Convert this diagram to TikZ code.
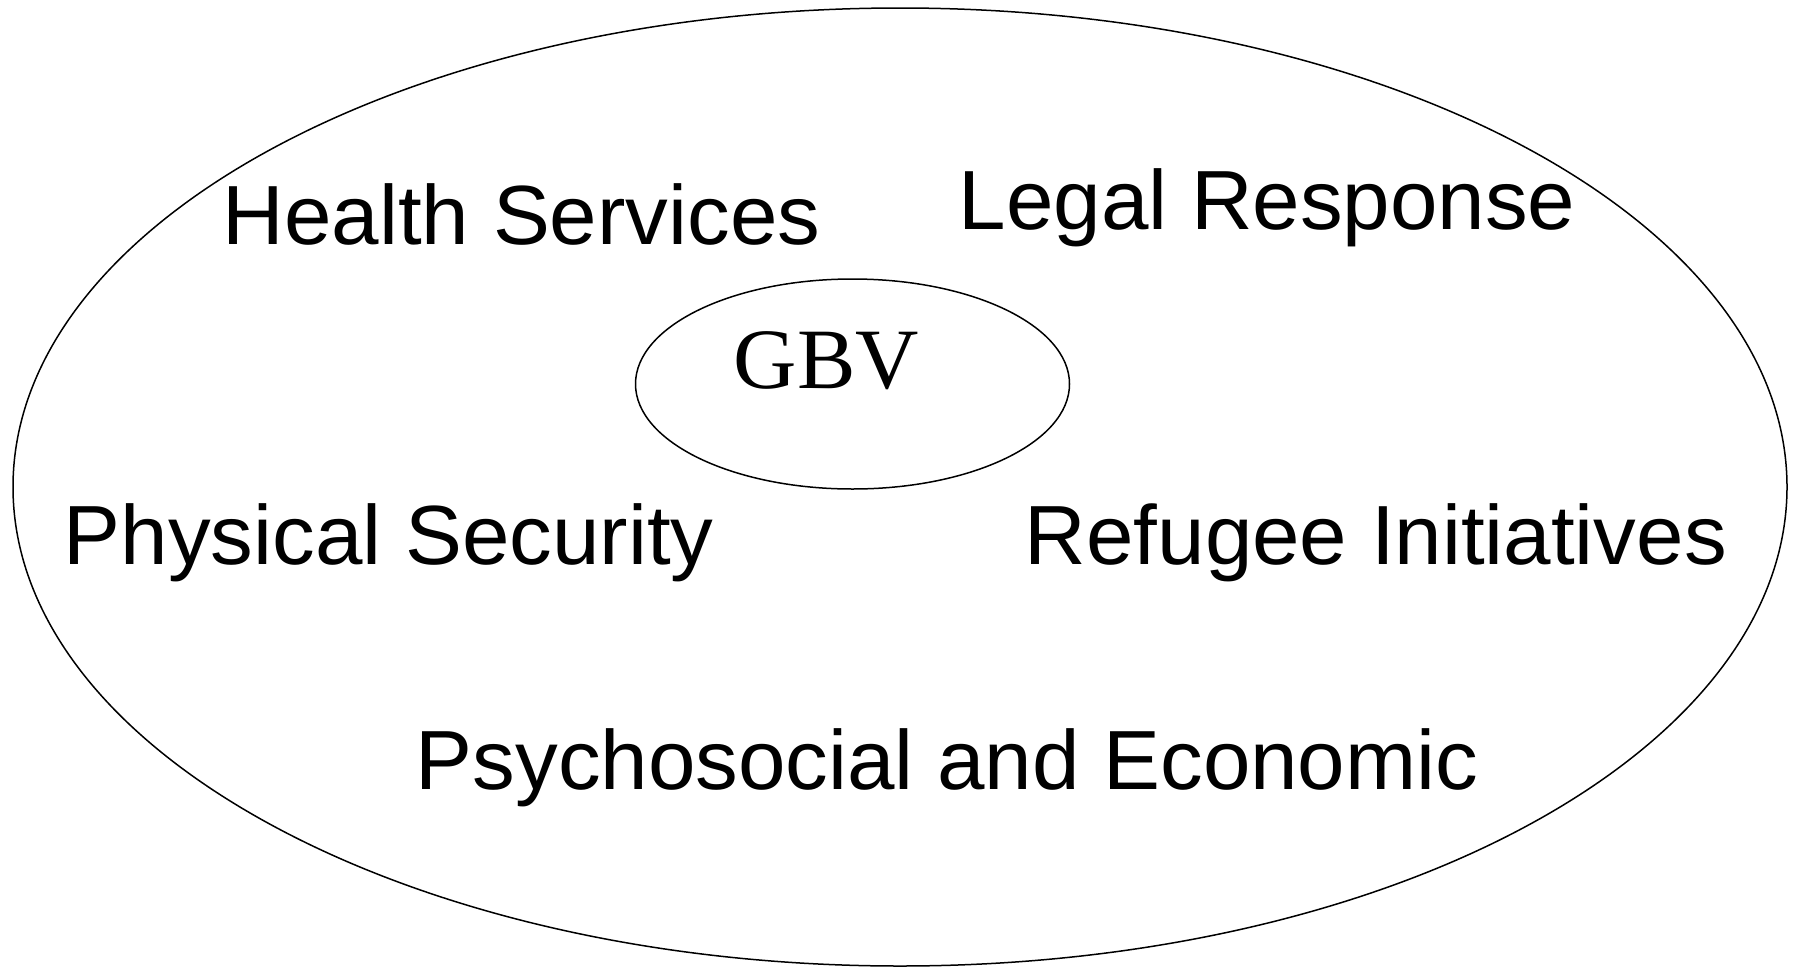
\documentclass[tikz,border=0pt]{standalone}
\usepackage{fontspec}
\setmainfont{Liberation Serif}
\setsansfont{Liberation Sans}
\usetikzlibrary{shapes.geometric}
\tikzset{area/.style={font=\sffamily\fontsize{84}{100}\selectfont, anchor=base west, inner sep=0pt, xscale=1.016}}
\begin{document}
\begin{tikzpicture}[x=1pt, y=-1pt, line width=1.5pt]
          \useasboundingbox (0,0) rectangle (1799,967);
          \draw (900,487) ellipse (887 and 479);
          \node[draw, ellipse, minimum width=434pt, minimum height=210pt] (gbvring) at (852.5,384) {};
          \node[anchor=base west, inner sep=0pt, xscale=1.02, font=\fontsize{86}{100}\selectfont] (gbv) at (733,388) {GBV};
          \node[area] (health) at (222,244) {Health Services};
          \node[area] (legal) at (958,229) {Legal Response};
          \node[area] (physical) at (63,564) {Physical Security};
          \node[area] (refugee) at (1024,564) {Refugee Initiatives};
          \node[area] (psycho) at (415,789) {Psychosocial and Economic};
        \end{tikzpicture}
\end{document}
